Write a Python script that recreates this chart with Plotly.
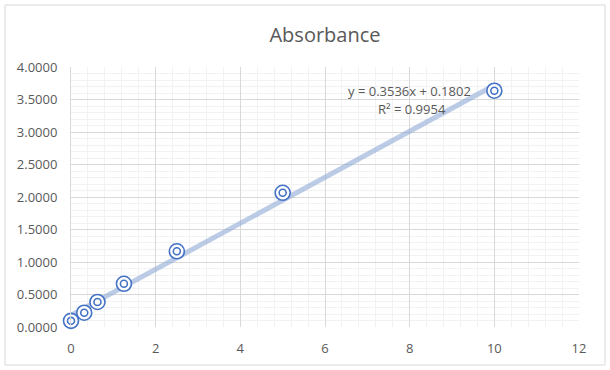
import numpy as np
import plotly.graph_objects as go

conc = [0, 0.3125, 0.625, 1.25, 2.5, 5, 10]
absorb = [0.095, 0.22, 0.385, 0.665, 1.165, 2.065, 3.635]
x_ticks = [0, 2, 4, 6, 8, 10, 12]
y_ticks = [0, 0.5, 1.0, 1.5, 2.0, 2.5, 3.0, 3.5, 4.0]
eq_text = "y = 0.3536x + 0.1802"
r2_text = "R² = 0.9954"

slope, intercept = np.polyfit(conc, absorb, 1)
tx = [min(conc), max(conc)]
ty = [slope * v + intercept for v in tx]

blue = "#4472C4"
fig = go.Figure()
fig.add_trace(go.Scatter(x=tx, y=ty, mode="lines",
                         line=dict(color="rgba(143,170,215,0.6)", width=5),
                         hoverinfo="skip"))
fig.add_trace(go.Scatter(x=conc, y=absorb, mode="markers", cliponaxis=False,
                         marker=dict(symbol="circle", size=15, color="white",
                                     line=dict(color=blue, width=1.6))))
fig.add_trace(go.Scatter(x=conc, y=absorb, mode="markers", cliponaxis=False,
                         marker=dict(symbol="circle-open", size=7, color=blue,
                                     line=dict(color=blue, width=1.6))))

L, R, T, B = 71, 31, 67, 43
W, H = 610, 370
pw, ph = W - L - R, H - T - B
fig.add_shape(type="rect", xref="paper", yref="paper",
              x0=(5 - L) / pw, x1=(605 - L) / pw,
              y0=(H - B - 365) / ph, y1=(H - B - 5) / ph,
              line=dict(color="#d9d9d9", width=1), layer="below")

font = "Open Sans, Lato, sans-serif"
fig.update_layout(
    width=W, height=H, margin=dict(l=L, r=R, t=T, b=B),
    paper_bgcolor="white", plot_bgcolor="white", showlegend=False,
    title=dict(text="Absorbance", x=0.5, xref="paper", y=(H - 35) / H, yanchor="middle",
               font=dict(family=font, size=20, color="#595959")),
    font=dict(family=font, color="#595959", size=13),
    xaxis=dict(range=[0, 12], tickvals=x_ticks, ticktext=[str(v) for v in x_ticks],
               showgrid=True, gridcolor="#d9d9d9", gridwidth=1,
               minor=dict(dtick=0.4, showgrid=True, gridcolor="#f2f2f2", gridwidth=1),
               zeroline=False, showline=False, ticks="", ticklabelstandoff=12,
               tickfont=dict(size=13, color="#595959")),
    yaxis=dict(range=[0, 4], tickvals=y_ticks, ticktext=[f"{v:.4f}" for v in y_ticks],
               showgrid=True, gridcolor="#d9d9d9", gridwidth=1,
               minor=dict(dtick=0.1, showgrid=True, gridcolor="#f2f2f2", gridwidth=1),
               zeroline=False, showline=True, linecolor="#d9d9d9", ticks="",
               ticklabelstandoff=10,
               tickfont=dict(size=13, color="#595959")),
    annotations=[
        dict(text=eq_text, x=8.0, y=3.63, xref="x", yref="y",
             showarrow=False, font=dict(size=13, color="#595959"),
             xanchor="center", yanchor="middle"),
        dict(text=r2_text, x=8.05, y=3.35, xref="x", yref="y",
             showarrow=False, font=dict(size=13, color="#595959"),
             xanchor="center", yanchor="middle"),
    ],
)
fig.write_html("out.html")
